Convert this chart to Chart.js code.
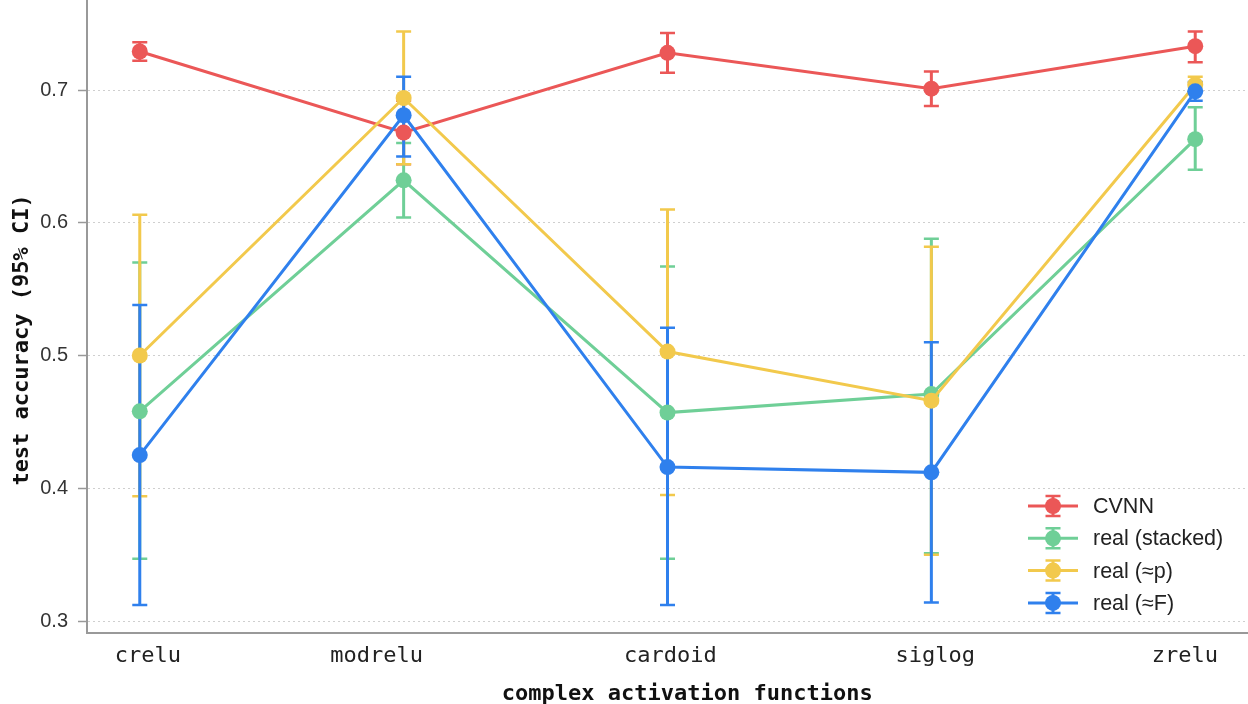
<!DOCTYPE html>
<html><head><meta charset="utf-8">
<script src="https://cdn.jsdelivr.net/npm/chart.js@4"></script>
<style>html,body{margin:0;padding:0;background:#fff}canvas{display:block}</style>
</head><body>
<canvas id="c" width="1248" height="704"></canvas>
<script>
// ---- data ----
const categories = ['crelu', 'modrelu', 'cardoid', 'siglog', 'zrelu'];
const seriesNames = ['CVNN', 'real (stacked)', 'real (\u2248p)', 'real (\u2248F)'];
const cvnnMean = [0.729, 0.668, 0.728, 0.701, 0.733];
const cvnnLow = [0.722, 0.644, 0.713, 0.688, 0.721];
const cvnnHigh = [0.736, 0.692, 0.743, 0.714, 0.744];
const stackedMean = [0.458, 0.632, 0.457, 0.471, 0.663];
const stackedLow = [0.347, 0.604, 0.347, 0.351, 0.640];
const stackedHigh = [0.570, 0.660, 0.567, 0.588, 0.687];
const approxPMean = [0.500, 0.694, 0.503, 0.466, 0.704];
const approxPLow = [0.394, 0.644, 0.395, 0.350, 0.699];
const approxPHigh = [0.606, 0.744, 0.610, 0.582, 0.710];
const approxFMean = [0.425, 0.681, 0.416, 0.412, 0.699];
const approxFLow = [0.312, 0.650, 0.312, 0.314, 0.692];
const approxFHigh = [0.538, 0.710, 0.521, 0.510, 0.706];
const yTickValues = [0.3, 0.4, 0.5, 0.6, 0.7];

// ---- styling ----
const colors = ['#EB5757', '#6FCF97', '#F2C94C', '#2F80ED'];
const xLabelPositions = [0.031, 0.898, 2.011, 3.015, 3.961]; // where the category labels sit
const means = [cvnnMean, stackedMean, approxPMean, approxFMean];
const lows = [cvnnLow, stackedLow, approxPLow, approxFLow];
const highs = [cvnnHigh, stackedHigh, approxPHigh, approxFHigh];

const datasets = seriesNames.map((name, k) => ({
  label: name,
  data: means[k].map((v, i) => ({x: i, y: v})),
  low: lows[k],
  high: highs[k],
  borderColor: colors[k],
  backgroundColor: colors[k],
  pointBackgroundColor: colors[k],
  pointBorderWidth: 0,
  pointRadius: 8,
  borderWidth: 3,
  tension: 0,
  order: seriesNames.length - 1 - k
}));

const errorBars = {
  id: 'errorBars',
  beforeDatasetsDraw(chart) {
    const ctx = chart.ctx, xs = chart.scales.x, ys = chart.scales.y;
    ctx.save();
    chart.data.datasets.forEach(ds => {
      ctx.strokeStyle = ds.borderColor;
      ds.data.forEach((p, i) => {
        const x = xs.getPixelForValue(p.x);
        const y1 = ys.getPixelForValue(ds.low[i]);
        const y2 = ys.getPixelForValue(ds.high[i]);
        ctx.lineWidth = 3;
        ctx.beginPath(); ctx.moveTo(x, y1); ctx.lineTo(x, y2); ctx.stroke();
        ctx.lineWidth = 2.5;
        ctx.beginPath();
        ctx.moveTo(x - 7.5, y1); ctx.lineTo(x + 7.5, y1);
        ctx.moveTo(x - 7.5, y2); ctx.lineTo(x + 7.5, y2);
        ctx.stroke();
      });
    });
    ctx.restore();
  }
};

const decorations = {
  id: 'decorations',
  afterDraw(chart) {
    const ctx = chart.ctx, a = chart.chartArea;
    ctx.save();
    // axis titles
    ctx.fillStyle = '#111';
    ctx.font = 'bold 22px "DejaVu Sans Mono"';
    ctx.textAlign = 'center';
    ctx.textBaseline = 'alphabetic';
    ctx.fillText('complex activation functions', a.left + (a.right - a.left) * 0.517, chart.height - 4);
    ctx.translate(28, a.top + (a.bottom - a.top) * 0.537);
    ctx.rotate(-Math.PI / 2);
    ctx.fillText('test accuracy (95% CI)', 0, 0);
    ctx.restore();
    // legend
    ctx.save();
    const lx = a.right - 220, ly0 = a.bottom - 127, dy = 32.3;
    chart.data.datasets.forEach((ds, k) => {
      const y = ly0 + dy * k;
      const cx = lx + 25;
      ctx.strokeStyle = ds.borderColor;
      ctx.fillStyle = ds.borderColor;
      ctx.lineWidth = 3;
      ctx.beginPath(); ctx.moveTo(lx, y); ctx.lineTo(lx + 50, y); ctx.stroke();
      ctx.beginPath(); ctx.moveTo(cx, y - 10); ctx.lineTo(cx, y + 10); ctx.stroke();
      ctx.lineWidth = 2.5;
      ctx.beginPath();
      ctx.moveTo(cx - 7.5, y - 10); ctx.lineTo(cx + 7.5, y - 10);
      ctx.moveTo(cx - 7.5, y + 10); ctx.lineTo(cx + 7.5, y + 10);
      ctx.stroke();
      ctx.beginPath(); ctx.arc(cx, y, 8, 0, Math.PI * 2); ctx.fill();
      ctx.fillStyle = '#222';
      ctx.font = '21.5px "Liberation Sans", Arial, sans-serif';
      ctx.textAlign = 'left';
      ctx.textBaseline = 'middle';
      ctx.fillText(ds.label, lx + 65, y + 1);
    });
    ctx.restore();
  }
};

new Chart(document.getElementById('c'), {
  type: 'line',
  data: { datasets },
  options: {
    responsive: false,
    animation: false,
    devicePixelRatio: 1,
    events: [],
    layout: { padding: 0, autoPadding: false },
    plugins: { legend: { display: false }, tooltip: { enabled: false } },
    scales: {
      x: {
        type: 'linear',
        min: -0.2, max: 4.2,
        afterBuildTicks(s) { s.ticks = xLabelPositions.map(v => ({value: v})); },
        afterFit(s) { s.height = 71; s.paddingLeft = 0; s.paddingRight = 0; s.paddingTop = 0; s.paddingBottom = 0; },
        ticks: {
          callback: (v, i) => categories[i],
          font: { family: 'DejaVu Sans Mono', size: 22 },
          color: '#222',
          padding: 10,
          maxRotation: 0,
          autoSkip: false
        },
        grid: { display: false, drawTicks: false },
        border: { display: true, color: '#999', width: 2 }
      },
      y: {
        type: 'linear',
        min: 0.291, max: 0.7678,
        afterBuildTicks(s) { s.ticks = yTickValues.map(v => ({value: v})); },
        afterFit(s) { s.width = 87; s.paddingTop = 0; s.paddingBottom = 0; s.paddingLeft = 0; s.paddingRight = 0; },
        ticks: {
          callback: v => v.toFixed(1),
          font: { family: '"Liberation Sans", Arial, sans-serif', size: 20 },
          color: '#333',
          padding: 10
        },
        grid: {
          color: '#cfcfcf', lineWidth: 1,
          tickColor: '#999', tickLength: 9, tickWidth: 1.5
        },
        border: { display: true, color: '#999', width: 2, dash: [2, 3] }
      }
    }
  },
  plugins: [errorBars, decorations]
});
</script>
</body></html>
